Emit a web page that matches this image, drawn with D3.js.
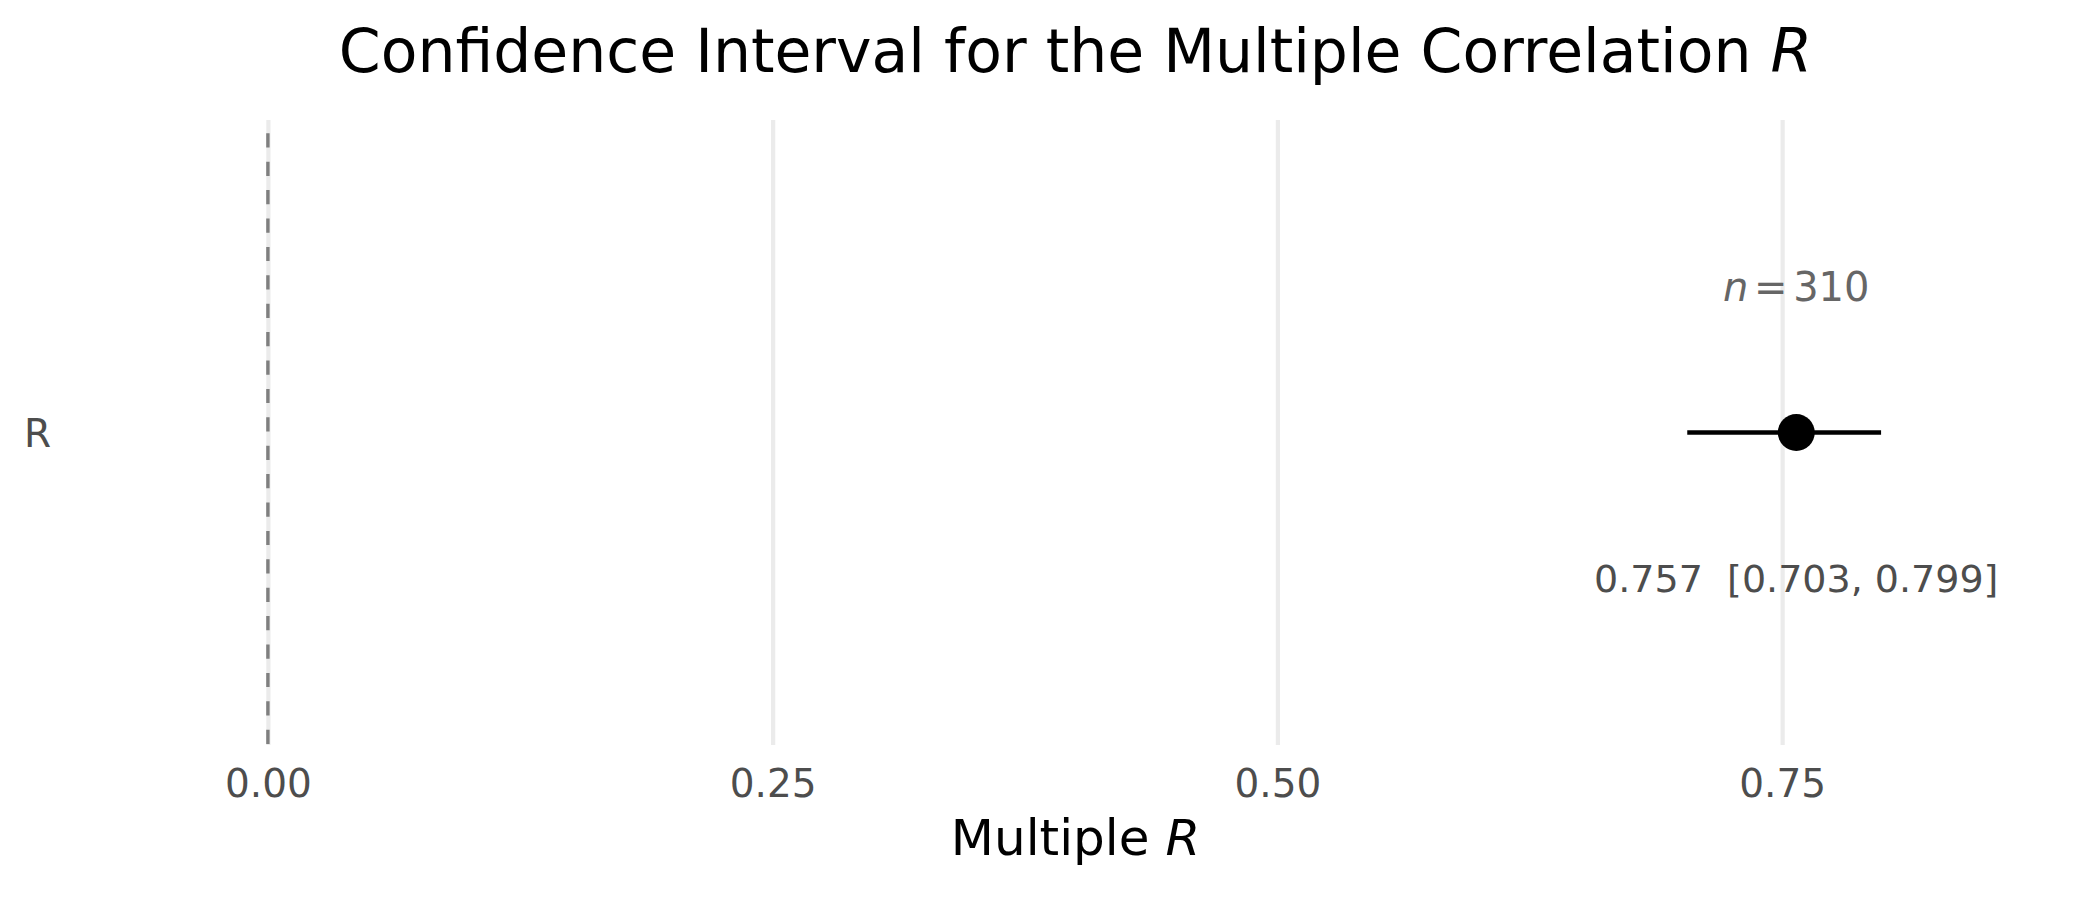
<!DOCTYPE html>
<html>
<head>
<meta charset="utf-8">
<script src="https://cdn.jsdelivr.net/npm/d3@7"></script>
<style>
  body { margin: 0; background: #fff; }
  text { font-family: "DejaVu Sans", sans-serif; }
</style>
</head>
<body>
<div class="ci-plot-container"></div>
<script>
// data
const categories = ['R'];
const estimates = [0.757];
const lowerCI = [0.703];
const upperCI = [0.799];
const sampleSizes = [310];
const xTickValues = [0, 0.25, 0.5, 0.75];
const xTickLabels = ['0.00', '0.25', '0.50', '0.75'];
const referenceValue = [0];

const svg_width = 2100;
const svg_height = 900;
const panel = {left: 66, right: 2085, top: 120, bottom: 745};

const svg = d3.select('.ci-plot-container')
    .append('svg')
    .attr('width', svg_width).attr('height', svg_height);

// scales
const xScale = d3.scaleLinear()
    .domain([-0.1, 0.9])
    .range([panel.left, panel.right]);

// one discrete level, ggplot style expansion of 0.6 each side
const yScale = d3.scaleLinear()
    .domain([0.4, 1.6])
    .range([panel.bottom, panel.top]);
const yPos = d => categories.indexOf(d) + 1;

// gridlines
const grid = d3.axisBottom(xScale)
    .tickValues(xTickValues)
    .tickFormat('')
    .tickSizeInner(-(panel.bottom - panel.top))
    .tickSizeOuter(0);
svg.append('g')
    .attr('class', 'grid')
    .attr('transform', `translate(0,${panel.bottom})`)
    .call(grid)
    .call(g => g.select('.domain').remove())
    .call(g => g.selectAll('line').attr('stroke', '#EBEBEB').attr('stroke-width', 4.2));

// dashed reference line at 0
svg.selectAll('.ref-line')
    .data(referenceValue).enter()
    .append('line')
    .attr('class', 'ref-line')
    .attr('x1', d => xScale(d)).attr('x2', d => xScale(d))
    .attr('y1', panel.top).attr('y2', panel.bottom)
    .attr('stroke', '#7F7F7F')
    .attr('stroke-width', 3.4)
    .attr('stroke-dasharray', '14.2 14.2')
    .attr('stroke-dashoffset', 15.1);

// x tick labels
const xAxis = d3.axisBottom(xScale)
    .tickValues(xTickValues)
    .tickFormat((d, i) => xTickLabels[i])
    .tickSize(0)
    .tickPadding(0);
svg.append('g')
    .attr('class', 'x axis')
    .attr('transform', `translate(0,${panel.bottom})`)
    .call(xAxis)
    .call(g => g.select('.domain').remove())
    .call(g => g.selectAll('text')
        .attr('y', 52).attr('dy', 0)
        .style('font-family', '"DejaVu Sans", sans-serif')
        .style('font-size', '39px')
        .style('fill', '#4D4D4D'));

// y tick labels
const yAxis = d3.axisLeft(yScale)
    .tickValues(categories.map(yPos))
    .tickFormat((d, i) => categories[i])
    .tickSize(0)
    .tickPadding(0);
svg.append('g')
    .attr('class', 'y axis')
    .attr('transform', `translate(${panel.left - 15},0)`)
    .call(yAxis)
    .call(g => g.select('.domain').remove())
    .call(g => g.selectAll('text')
        .attr('dy', '0.36em')
        .style('font-family', '"DejaVu Sans", sans-serif')
        .style('font-size', '39px')
        .style('fill', '#4D4D4D'));

// error bars
svg.selectAll('.ci-bar')
    .data(categories).enter()
    .append('line')
    .attr('class', 'ci-bar')
    .attr('x1', (d, i) => xScale(lowerCI[i]))
    .attr('x2', (d, i) => xScale(upperCI[i]))
    .attr('y1', d => yScale(yPos(d)))
    .attr('y2', d => yScale(yPos(d)))
    .attr('stroke', '#000')
    .attr('stroke-width', 4.6);

// point estimates
svg.selectAll('.estimate')
    .data(categories).enter()
    .append('circle')
    .attr('class', 'estimate')
    .attr('cx', (d, i) => xScale(estimates[i]))
    .attr('cy', d => yScale(yPos(d)))
    .attr('r', 18.5)
    .style('fill', '#000');

// n labels above
const labelOffset = 0.28;
const nLabel = svg.selectAll('.n-label')
    .data(categories).enter()
    .append('text')
    .attr('class', 'n-label')
    .attr('x', (d, i) => xScale(estimates[i]))
    .attr('y', d => yScale(yPos(d) + labelOffset))
    .attr('dy', '0.36em')
    .attr('text-anchor', 'middle')
    .style('font-size', '40px')
    .style('fill', '#666666');
nLabel.append('tspan').text('n').style('font-style', 'italic');
nLabel.append('tspan').text('=').attr('dx', '0.14em');
nLabel.append('tspan').text((d, i) => sampleSizes[i]).attr('dx', '0.14em');

// estimate and interval labels below
svg.selectAll('.ci-label')
    .data(categories).enter()
    .append('text')
    .attr('class', 'ci-label')
    .attr('x', (d, i) => xScale(estimates[i]))
    .attr('y', d => yScale(yPos(d) - labelOffset))
    .attr('dy', '0.36em')
    .attr('text-anchor', 'middle')
    .style('font-size', '38px')
    .style('fill', '#4D4D4D')
    .style('white-space', 'pre')
    .text((d, i) => `${d3.format('.3f')(estimates[i])}  [${d3.format('.3f')(lowerCI[i])}, ${d3.format('.3f')(upperCI[i])}]`);

// axis title
const xTitle = svg.append('text')
    .attr('x', (panel.left + panel.right) / 2)
    .attr('y', 855)
    .attr('text-anchor', 'middle')
    .style('font-size', '50px')
    .style('fill', '#000');
xTitle.append('tspan').text('Multiple ');
xTitle.append('tspan').text('R').style('font-style', 'italic');

// plot title
const title = svg.append('text')
    .attr('x', (panel.left + panel.right) / 2)
    .attr('y', 72)
    .attr('text-anchor', 'middle')
    .style('font-size', '60px')
    .style('fill', '#000');
title.append('tspan').text('Confidence Interval for the Multiple Correlation ');
title.append('tspan').text('R').style('font-style', 'italic');
</script>
</body>
</html>
